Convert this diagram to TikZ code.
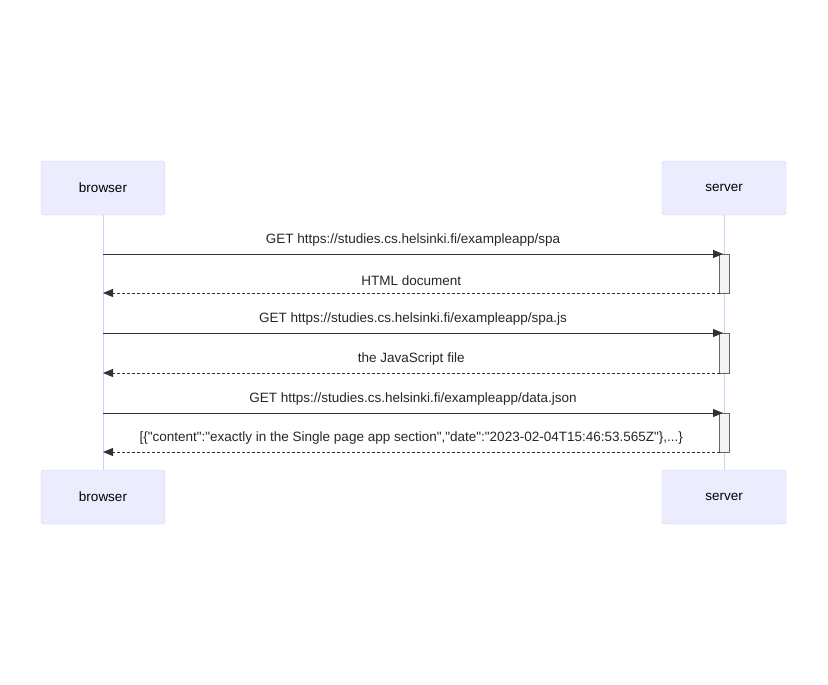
\documentclass[tikz,border=0pt]{standalone}
\usepackage{fontspec}
\setmainfont{Liberation Sans}[Ligatures=TeXOff]
\usetikzlibrary{arrows.meta, positioning}
\definecolor{actorfill}{HTML}{ECECFF}
\definecolor{actorline}{HTML}{D4CCF2}
\definecolor{msgline}{HTML}{333333}
\definecolor{actfill}{HTML}{F4F4F4}

\begin{document}
\begin{tikzpicture}[x=1pt, y=-1pt,
  actor/.style={draw=actorline, fill=actorfill, rounded corners=3pt, minimum width=124pt, minimum height=54pt, font=\fontsize{13.5}{16}\selectfont},
  lifeline/.style={draw=actorline, line width=1pt},
  activation/.style={draw=black!60, fill=actfill, line width=0.8pt},
  request/.style={draw=msgline, line width=0.9pt, -{Triangle[length=10pt, width=8pt]}},
  reply/.style={request, dash pattern=on 3pt off 2pt},
  msglabel/.style={font=\fontsize{13.5}{16}\selectfont, text=black!85}]
\useasboundingbox (0,0) rectangle (828,685);

% Participants, top and bottom
\node[actor] (browserTop) at (103,188) {browser};
\node[actor] (serverTop) at (724,188) {server};
\node[actor] (browserBot) at (103,497) {browser};
\node[actor] (serverBot) at (724,497) {server};

% Lifelines
\draw[lifeline] (browserTop) -- (browserBot);
\draw[lifeline] (serverTop) -- (serverBot);

% Activation boxes on the server
\foreach \ya/\yb/\nm in {254/293/actA, 333/373/actB, 413/452/actC}
  \draw[activation] (719.5,\ya) rectangle (729,\yb) coordinate (\nm);

% Message end points
\coordinate (bA) at (103,254); \coordinate (sA) at (723,254);
\coordinate (sB) at (719.5,293); \coordinate (bB) at (103,293);
\coordinate (bC) at (103,333); \coordinate (sC) at (723,333);
\coordinate (sD) at (719.5,373); \coordinate (bD) at (103,373);
\coordinate (bE) at (103,413); \coordinate (sE) at (723,413);
\coordinate (sF) at (719.5,452); \coordinate (bF) at (103,452);

% Messages
\draw[request] (bA) -- node[msglabel, above=4pt] {GET https://studies.cs.helsinki.fi/exampleapp/spa} (sA);
\draw[reply] (sB) -- node[msglabel, above=4pt] {HTML document} (bB);
\draw[request] (bC) -- node[msglabel, above=4pt] {GET https://studies.cs.helsinki.fi/exampleapp/spa.js} (sC);
\draw[reply] (sD) -- node[msglabel, above=4pt] {the JavaScript file} (bD);
\draw[request] (bE) -- node[msglabel, above=4pt] {GET https://studies.cs.helsinki.fi/exampleapp/data.json} (sE);
\draw[reply] (sF) -- node[msglabel, above=4pt] {[\{"content":"exactly in the Single page app section","date":"2023-02-04T15:46:53.565Z"\},...\}} (bF);
\end{tikzpicture}
\end{document}
